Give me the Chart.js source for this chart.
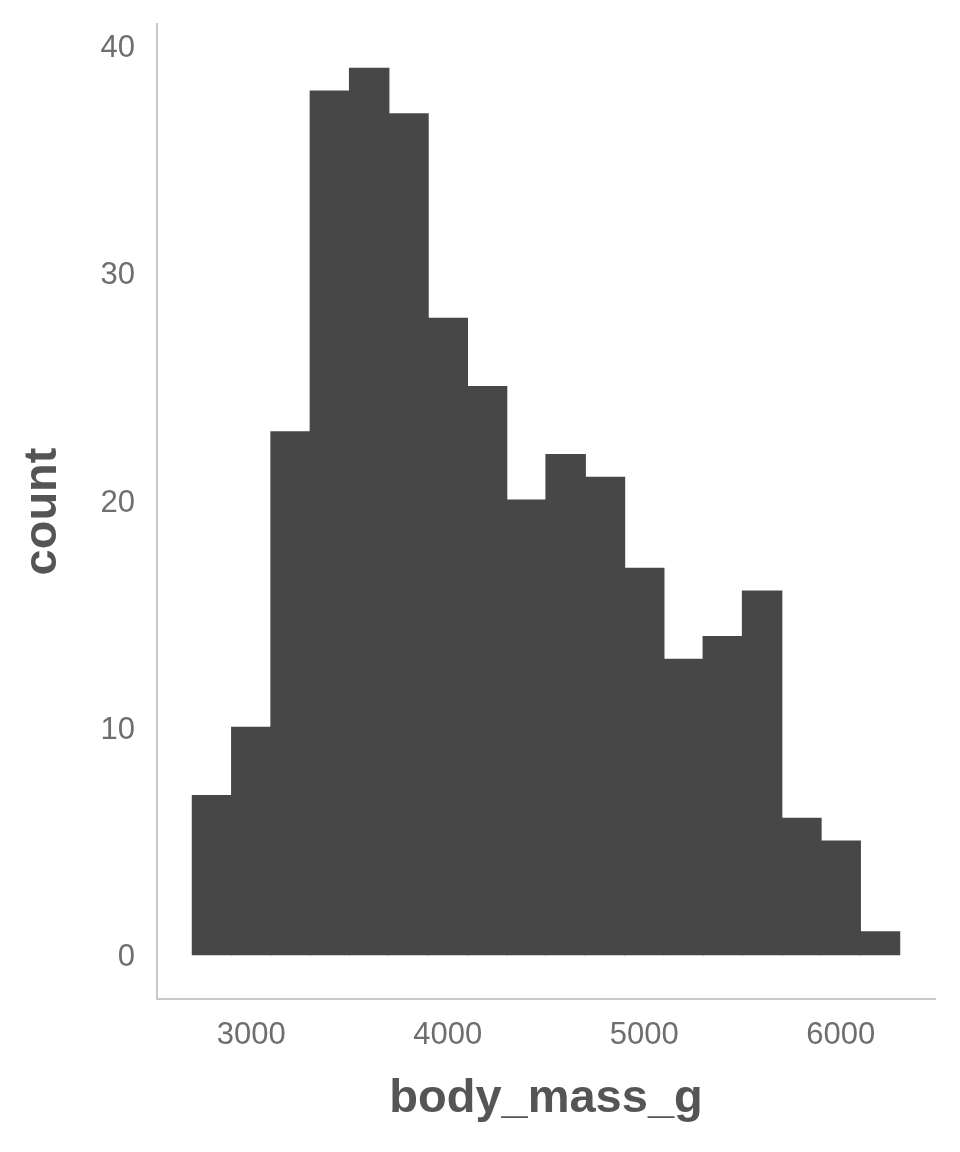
<!DOCTYPE html>
<html>
<head>
<meta charset="utf-8">
<script src="https://cdn.jsdelivr.net/npm/chart.js@4/dist/chart.umd.min.js"></script>
<style>
  html, body { margin: 0; padding: 0; background: #ffffff; }
  canvas { display: block; }
</style>
</head>
<body>
<canvas id="hist" width="960" height="1152"></canvas>
<script>
// histogram bins (left edges, width 200 g) and counts
const binStarts = [2700, 2900, 3100, 3300, 3500, 3700, 3900, 4100, 4300, 4500, 4700, 4900, 5100, 5300, 5500, 5700, 5900, 6100];
const binWidth = 200;
const counts = [7, 10, 23, 38, 39, 37, 28, 25, 20, 22, 21, 17, 13, 14, 16, 6, 5, 1];
const xTicks = [3000, 4000, 5000, 6000];
const yTicks = [0, 10, 20, 30, 40];

const fontFamily = "'Liberation Sans', Arial, Helvetica, sans-serif";

const ctx = document.getElementById("hist").getContext('2d');

const points = binStarts.map(function(b, i) {
    return { x: b + binWidth / 2, y: counts[i] };
});

const hist = new Chart(ctx, {
    type: 'bar',
    data: {
        datasets: [
            {
                label: 'count',
                data: points,
                backgroundColor: '#474747',
                borderWidth: 0,
                inflateAmount: 0.6,
                barPercentage: 1,
                categoryPercentage: 1
            }
        ]
    },
    options: {
        responsive: false,
        animation: false,
        devicePixelRatio: 1,
        layout: {
            padding: { top: 24, right: 25, bottom: 0, left: 0 }
        },
        plugins: {
            legend: { display: false },
            tooltip: { enabled: false }
        },
        scales: {
            x: {
                type: 'linear',
                offset: false,
                min: 2520,
                max: 6480,
                grid: { display: false, drawTicks: false },
                border: { display: true, color: '#c8c8c8', width: 2 },
                afterBuildTicks: function(scale) {
                    scale.ticks = xTicks.map(v => ({ value: v }));
                },
                afterFit: function(scale) {
                    scale.height = 153;
                    scale.paddingLeft = 0;
                    scale.paddingRight = 0;
                },
                ticks: {
                    autoSkip: false,
                    maxRotation: 0,
                    padding: 18,
                    color: '#6e6e6e',
                    font: { family: fontFamily, size: 31 },
                    callback: function(v) { return String(v); }
                },
                title: {
                    display: true,
                    text: 'body_mass_g',
                    color: '#555555',
                    font: { family: fontFamily, size: 47, weight: 'bold', lineHeight: 1.2 },
                    padding: { top: 0, bottom: 25 }
                }
            },
            y: {
                type: 'linear',
                min: -1.95,
                max: 40.95,
                grid: { display: false, drawTicks: false },
                border: { display: true, color: '#c8c8c8', width: 2 },
                afterBuildTicks: function(scale) {
                    scale.ticks = yTicks.map(v => ({ value: v }));
                },
                afterFit: function(scale) {
                    scale.width = 157;
                    scale.paddingTop = 0;
                    scale.paddingBottom = 0;
                },
                ticks: {
                    padding: 22,
                    labelOffset: 3,
                    color: '#6e6e6e',
                    font: { family: fontFamily, size: 31 },
                    callback: function(v) { return String(v); }
                },
                title: {
                    display: true,
                    text: 'count',
                    color: '#555555',
                    font: { family: fontFamily, size: 47, weight: 'bold', lineHeight: 1.2 },
                    padding: { top: 15, bottom: 0 }
                }
            }
        }
    }
});
</script>
</body>
</html>
